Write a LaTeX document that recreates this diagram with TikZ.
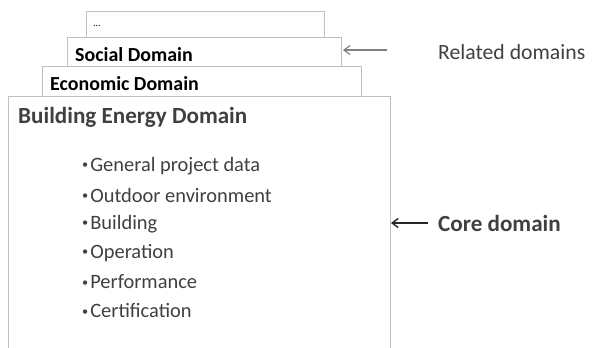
\documentclass[tikz,border=0pt]{standalone}
\usepackage{fontspec}
\setmainfont{Carlito}
\usetikzlibrary{arrows.meta}
\definecolor{frame}{HTML}{BFBFBF}
\definecolor{ink}{HTML}{404040}
\definecolor{arrowgray}{HTML}{808080}
\begin{document}
\begin{tikzpicture}[x=1bp,y=-1bp,
  domainbox/.style={draw=frame,line width=0.9bp,fill=white},
  title/.style={anchor=west,inner sep=0pt,font=\bfseries\fontsize{20}{22}\selectfont},
  item/.style={anchor=west,inner sep=0pt,text=ink,font=\fontsize{20.5}{23}\selectfont},
  note/.style={anchor=west,inner sep=0pt,text=ink,font=\fontsize{21.8}{24}\selectfont}]
\useasboundingbox (0,0) rectangle (597,347);
% stacked domain sheets, back to front
\draw[domainbox] (86,50) -- (86,11) -- (324,11) -- (324,50);
\node[anchor=west,inner sep=0pt,font=\fontsize{10}{11}\selectfont] (more) at (93,26) {...};
\draw[domainbox] (67,80) -- (67,37) -- (341,37) -- (341,80);
\node[title] (social) at (75,55) {Social Domain};
\draw[domainbox] (42,110) -- (42,66) -- (361,66) -- (361,110);
\node[title] (economic) at (50,84) {Economic Domain};
\draw[domainbox] (8,348) -- (8,96) -- (390,96) -- (390,348);
\coordinate (coreedge) at (391,223);
\node[anchor=west,inner sep=0pt,text=ink,font=\bfseries\fontsize{23.2}{25}\selectfont] (core) at (18,117) {Building Energy Domain};
% content of the core domain
\foreach \t [count=\i] in {General project data,Outdoor environment,Building,Operation,Performance,Certification}{
  \node[item] (it\i) at (82,137+29*\i) {\raisebox{0.12em}{\scalebox{0.6}{•}}\hspace{0.1em}\t};
}
% side labels
\node[note] (rel) at (438,52) {Related domains};
\coordinate (socedge) at (343,50);
\coordinate (relstart) at (387,50);
\draw[arrowgray,line width=1.2bp,-{Straight Barb[length=6bp,width=9bp]}] (relstart) -- (socedge);
\node[note,font=\bfseries\fontsize{23.2}{25}\selectfont] (coremark) at (438,223) {Core domain};
\coordinate (corestart) at (428,223);
\draw[black!85,line width=1.4bp,-{Straight Barb[length=6bp,width=9bp]}] (corestart) -- (coreedge);
\end{tikzpicture}
\end{document}
